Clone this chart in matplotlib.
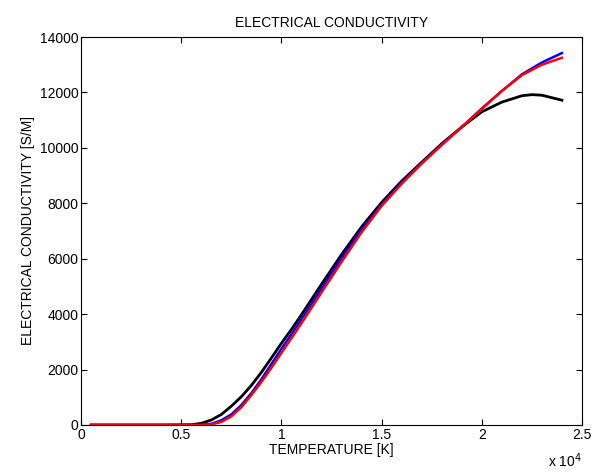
import matplotlib
matplotlib.use("Agg")
import matplotlib.pyplot as plt
from matplotlib.ticker import FuncFormatter

plt.rcParams['font.family'] = ['Liberation Sans', 'DejaVu Sans']

temp_blue = [500, 2000, 4000, 5500, 6000, 6500, 7000, 7500, 8000, 8500, 9000, 9500, 10000, 10500, 11000,
             12000, 13000, 14000, 15000, 16000, 17000, 18000, 19000, 20000, 21000, 22000, 23000, 24000]
sigma_blue = [0, 0, 0, 0, 5, 40, 170, 380, 720, 1150, 1650, 2200, 2750, 3280, 3820,
              4920, 6020, 7050, 7950, 8750, 9450, 10120, 10750, 11420, 12050, 12650, 13080, 13420]

temp_red = temp_blue
sigma_red = [0, 0, 0, 0, 0, 20, 110, 310, 640, 1080, 1550, 2060, 2600, 3130, 3670,
             4780, 5880, 6950, 7900, 8700, 9430, 10100, 10750, 11400, 12050, 12620, 13000, 13250]

temp_black = [500, 2000, 4000, 5500, 6000, 6500, 7000, 7500, 8000, 8500, 9000, 9500, 10000, 10500, 11000,
              12000, 13000, 14000, 15000, 16000, 17000, 18000, 19000, 20000, 21000, 22000, 22500, 23000, 24000]
sigma_black = [0, 0, 0, 10, 60, 180, 380, 680, 1020, 1430, 1900, 2420, 2950, 3450, 3980,
               5080, 6150, 7150, 8030, 8800, 9480, 10150, 10750, 11300, 11650, 11880, 11920, 11900, 11720]

fig = plt.figure(figsize=(5.92, 4.72), dpi=100)
ax = fig.add_axes([0.137, 0.0996, 0.846, 0.822])

ax.plot(temp_black, sigma_black, color='black', lw=2.0)
ax.plot(temp_blue, sigma_blue, color='blue', lw=1.8)
ax.plot(temp_red, sigma_red, color='red', lw=1.8)

ax.set_xlim(0, 25000)
ax.set_ylim(0, 14000)
ax.set_xticks([0, 5000, 10000, 15000, 20000, 25000])
ax.set_yticks(range(0, 14001, 2000))
ax.xaxis.set_major_formatter(FuncFormatter(lambda v, p: f'{v/1e4:g}'))
ax.tick_params(direction='in', top=True, right=True, labelsize=10, length=4, width=0.8, pad=2)
for s in ax.spines.values():
    s.set_linewidth(0.8)

ax.set_xlabel('TEMPERATURE [K]', fontsize=10, labelpad=1)
ax.set_ylabel('ELECTRICAL CONDUCTIVITY [S/M]', fontsize=10, labelpad=3)
ax.set_title('ELECTRICAL CONDUCTIVITY', fontsize=10, pad=7)
ax.text(1.0, -0.108, 'x 10$^4$', transform=ax.transAxes, ha='right', va='baseline', fontsize=10)

fig.savefig('out.png', dpi=100)
